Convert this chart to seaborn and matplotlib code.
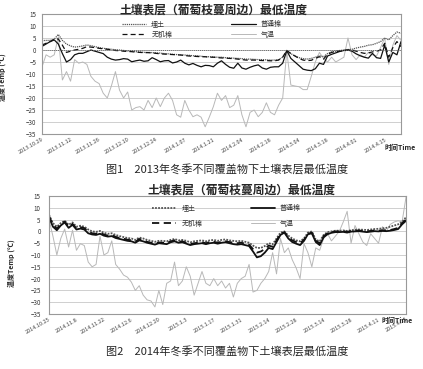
import numpy as np
import pandas as pd
import matplotlib
matplotlib.use("Agg")
import matplotlib.pyplot as plt
import seaborn as sns

# ---------------- data (one reading every 2 days) ----------------
start1 = "2013-10-29"
step1 = 2
maitu1 = [3.9, 4, 4, 4.5, 6.5, 4, 2.5, 1.7, 1.2, 1.4,
          1.7, 2.1, 1.8, 1.4, 1, 0.7, 0.5, 0.3, 0.1, 0,
          -0.2, -0.4, -0.5, -0.7, -0.8, -1, -1, -1.1, -1.2, -1.3,
          -1.5, -1.6, -1.8, -1.9, -2, -2.1, -2.2, -2.4, -2.4, -2.6,
          -2.8, -2.8, -2.9, -3, -3, -3.2, -3.3, -3.4, -3.5, -3.6,
          -3.8, -3.8, -3.9, -4, -4, -4.1, -4.2, -4.2, -4, -3,
          -0.2, -1.5, -2.5, -3.2, -3.6, -3.8, -3.5, -3, -2.4, -2.8,
          -1.5, -0.8, -0.5, -0.2, 0, 0.2, 0.3, 0.8, 1.2, 1.5,
          2, 2.2, 2.8, 3.5, 5, 4.2, 6, 7.5, 7]
putong1 = [1.5, 2.5, 3.5, 4.2, 2.5, -1.5, -5, -4, -2, -1.4,
           -1.4, -0.7, 0, -0.5, -1, -1.5, -3, -3.8, -4.2, -4,
           -3.6, -3.8, -4.9, -4.5, -4.2, -4.7, -4.5, -3.2, -4, -4.9,
           -4.5, -4.4, -5.4, -5, -4.2, -5.5, -6.2, -5.6, -6.4, -7,
           -6.4, -6.5, -7, -5.5, -4.5, -6, -7.2, -7.6, -5.5, -7.5,
           -8, -7.2, -6.6, -6.2, -7.5, -8, -7.2, -7, -7, -5.5,
           -0.3, -3.5, -5, -6.5, -8, -8.4, -8.6, -7.8, -5.5, -6,
           -2.5, -1.8, -1.2, -0.6, -0.2, 0, -0.5, -1.6, -2.4, -3,
           -3.4, -1.4, -3.2, -3.5, 2, -5, -1, -2, 3.5]
wuji1 = [2.1, 2.8, 3.5, 4.5, 4.6, 2, -1, -0.5, 0, 0.3,
         0.7, 1.4, 1.2, 1, 0.7, 0.5, 0.3, 0.1, -0.2, -0.3,
         -0.5, -0.6, -0.7, -0.9, -1, -1.1, -1.1, -1.2, -1.4, -1.6,
         -1.7, -1.8, -1.9, -2, -2.1, -2.3, -2.5, -2.6, -2.7, -2.8,
         -2.8, -3, -3, -3.2, -3.3, -3.4, -3.5, -3.6, -3.8, -4,
         -4.2, -4.2, -4.2, -4.3, -4.4, -4.4, -4.5, -4.5, -4.2, -3,
         -0.2, -1.5, -2.5, -3.5, -4.2, -4.4, -4.3, -3.5, -2.8, -3.8,
         -1.8, -1, -0.7, -0.5, -0.3, 0, 0, -0.5, -1, -1.4,
         -1.2, -0.8, -0.5, 0, 2.8, -3, 1, 3.5, 1.4]
qiwen1 = [-7, -2, -3, -2, 5.5, -12.5, -9, -13, -4, -5.5,
          -5, -6, -11, -13, -14, -18, -20, -15, -9, -16.7,
          -20, -17.5, -25, -24, -23.6, -25, -21, -24, -20, -23.6,
          -20, -18, -21, -27, -28, -21, -25, -27.8, -27, -28,
          -32, -28, -23.6, -18, -21, -19, -24, -23, -19, -27,
          -32, -26, -25, -27.8, -26, -22, -26, -27, -23, -20,
          -0.5, -14.6, -15, -15.3, -16.5, -16.5, -11, -5, -1, -3.5,
          -5, -3, -5, -4, -3, 5, -2, -4, -2, -3,
          -1, -2, -2.5, 1, 5, -6, 2, 6, 4]
ticks1 = ["2013.10.29", "2013.11.12", "2013.11.26", "2013.12.10", "2013.12.24", "2014.1.07",
          "2014.1.21", "2014.2.04", "2014.2.18", "2014.3.04", "2014.3.18", "2014.4.01",
          "2014.4.15"]

start2 = "2014-10-25"
step2 = 2
maitu2 = [7, 3.5, 2, 3.5, 4.5, 2.8, 3.8, 2, 2.4, 2,
          0.8, 0, -0.2, 0.2, -0.6, -1, -0.8, -1.5, -2, -2.4,
          -2.8, -3, -3.6, -2.6, -3, -3.6, -4, -4.4, -4, -4,
          -4.2, -3.6, -3.2, -3.8, -3.6, -4, -4.6, -4.2, -4, -3.8,
          -4.2, -3.8, -3.6, -4, -3.6, -3.4, -3.8, -4, -4.2, -4,
          -4.4, -4.8, -6, -7, -7, -6.2, -5, -5.5, -3, -0.5,
          0, -1.8, -3, -3.8, -4.2, -3, -0.5, 0, -3.5, -4.2,
          -1.5, -0.3, 0, 0.3, 0.3, 0.4, 0.2, 0.5, 0.7, 0.8,
          0.7, 0.6, 0.8, 1, 1.1, 1.3, 1.5, 2, 2.5, 3,
          4, 6]
putong2 = [6, 2, 0.5, 2.5, 3.8, 1.5, 2.8, 0.8, 1.2, 0.8,
           -0.8, -1.3, -1.5, -1, -1.8, -2.2, -2, -2.8, -3.2, -3.6,
           -4, -4.2, -4.8, -3.8, -4.2, -4.8, -5.2, -5.6, -5, -5.2,
           -5.4, -4.6, -4.2, -4.8, -4.6, -5.2, -5.8, -5.4, -5.2, -5,
           -5.4, -5, -4.8, -5.2, -4.8, -4.6, -5, -5.4, -5.6, -5.4,
           -5.8, -6.2, -8.5, -11, -10.5, -9, -7, -7.5, -4.5, -1.5,
           -0.5, -3, -4.5, -5.2, -5.8, -4, -1.2, -0.8, -4.5, -5.8,
           -2.5, -1.2, -0.6, -0.3, -0.3, -0.2, -0.5, -0.1, 0, 0.1,
           -0.1, -0.3, -0.1, 0.1, 0, 0.2, 0.1, 0.3, 0.6, 1,
           3, 4.5]
wuji2 = [6.5, 2.8, 1.2, 3, 4.2, 2, 3.2, 1.2, 1.8, 1.4,
         0, -0.8, -1, -0.6, -1.3, -1.8, -1.5, -2.3, -2.8, -3.1,
         -3.5, -3.8, -4.4, -3.2, -3.7, -4.4, -4.8, -5.2, -4.7, -4.8,
         -5, -4.2, -3.8, -4.4, -4.2, -4.8, -5.4, -5, -4.8, -4.6,
         -5, -4.5, -4.4, -4.8, -4.4, -4.2, -4.5, -4.8, -5, -4.8,
         -5.2, -5.6, -7.5, -9, -8.5, -7.5, -6, -6.5, -3.8, -1,
         -0.3, -2.4, -3.8, -4.5, -5, -3.5, -1, -0.5, -4, -5,
         -2, -0.8, -0.3, 0, 0, 0.1, -0.2, 0.2, 0.3, 0.4,
         0.2, 0, 0.2, 0.4, 0.3, 0.5, 0.4, 0.6, 1, 1.5,
         3.5, 5]
qiwen2 = [5, -2, -10, -3, 1, -6.6, 0.5, -8, -5.2, -6,
          -13, -15, -14, -2, -10, -9, -4, -14, -16, -18.5,
          -19.4, -21.5, -25, -23, -27, -29, -29.5, -32, -25, -31,
          -22, -21, -13, -23, -21, -15, -19, -27, -22, -17,
          -22, -23, -20, -23, -21, -24, -22, -27.8, -22, -20,
          -19, -14, -25.7, -25, -22, -20, -17, -9, -18, -3,
          -9, -7, -12, -15.5, -20, -5.2, -9, -15, -7, -8,
          -3, -1, -4, -2, 0, 4, 8.5, -5, 2.5, -1,
          -4.5, -6, -1, -3, -5, 2, 0, 3, 4, 4.5,
          4, 14.5]
ticks2 = ["2014.10.25", "2014.11.8", "2014.11.22", "2014.12.6", "2014.12.20", "2015.1.3",
          "2015.1.17", "2015.1.31", "2015.2.14", "2015.2.28", "2015.3.14", "2015.3.28",
          "2015.4.11", "2015.4.25"]

labels = ["埋土", "普通棉", "无机棉", "气温"]
title = "土壤表层（葡萄枝蔓周边）最低温度"
cap1 = "图1　2013年冬季不同覆盖物下土壤表层最低温度"
cap2 = "图2　2014年冬季不同覆盖物下土壤表层最低温度"

# ---------------- style ----------------
sns.set_theme(style="white")
plt.rcParams["font.family"] = ["Noto Sans CJK SC", "DejaVu Sans"]

fig = plt.figure(figsize=(4.23, 3.69), dpi=100)


def make_frame(start, step, series):
    n = len(series[0])
    dates = pd.date_range(start, periods=n, freq=f"{step}D")
    return pd.DataFrame({"date": dates, **{k: v for k, v in zip(labels, series)}})


def draw(rect, df, ticklabels, start, soil_lw, zero_line, leg_anchor, leg_sp, col_sp,
         ylab_pos, ypad):
    ax = fig.add_axes(rect)
    styles = {
        "埋土": dict(color="#555555", linestyle=(0, (1, 0.7)), linewidth=soil_lw),
        "普通棉": dict(color="#111111", linestyle="-", linewidth=soil_lw),
        "无机棉": dict(color="#111111", linestyle=(0, (4, 2.5)), linewidth=soil_lw),
        "气温": dict(color="#b8b8b8", linestyle="-", linewidth=0.7),
    }
    for name in ["气温", "埋土", "普通棉", "无机棉"]:
        sns.lineplot(data=df, x="date", y=name, ax=ax, label=name, **styles[name])
    h, l = ax.get_legend_handles_labels()
    hd = dict(zip(l, h))
    order = ["埋土", "无机棉", "普通棉", "气温"]
    leg = ax.legend([hd[k] for k in order], order, ncol=2, frameon=False,
                    loc="upper left", bbox_to_anchor=leg_anchor, fontsize=5,
                    handlelength=3.5, handletextpad=0.7, columnspacing=col_sp,
                    labelspacing=leg_sp, borderpad=0, borderaxespad=0)
    for t in leg.get_texts():
        t.set_color("#333333")
    ax.set_ylim(-35, 15)
    ax.set_yticks(np.arange(-35, 16, 5))
    ax.yaxis.grid(True, color="#c8c8c8", linewidth=0.6)
    ax.xaxis.grid(False)
    tick_dates = pd.date_range(start, periods=len(ticklabels), freq="14D")
    ax.set_xticks(tick_dates)
    ax.set_xticklabels(ticklabels, rotation=30, ha="right", rotation_mode="anchor",
                       fontsize=4, color="#444444")
    ax.set_xlim(df["date"].iloc[0], df["date"].iloc[-1])
    ax.tick_params(axis="y", labelsize=4.5, colors="#333333", length=0, pad=ypad)
    ax.tick_params(axis="x", length=0, pad=2)
    for s in ax.spines.values():
        s.set_color("#999999")
        s.set_linewidth(0.8)
    if zero_line:
        ax.axhline(0, color="#666666", linewidth=0.7, linestyle=(0, (1, 1)))
    ax.set_xlabel("")
    ax.set_ylabel("温度Temp (℃)", fontsize=5, fontweight="bold")
    ax.yaxis.set_label_coords(*ylab_pos)
    return ax


df1 = make_frame(start1, step1, [maitu1, putong1, wuji1, qiwen1])
df2 = make_frame(start2, step2, [maitu2, putong2, wuji2, qiwen2])

ax1 = draw([42 / 423, 1 - 134 / 369, 359 / 423, 120 / 369], df1, ticks1, start1, 0.9, True,
           (0.223, 0.946), 0.35, 8.5, (-0.10, 0.47), 4)
ax2 = draw([49 / 423, 1 - 314 / 369, 357 / 423, 118 / 369], df2, ticks2, start2, 1.3, False,
           (0.289, 0.932), 1.1, 7.0, (-0.095, 0.43), 6)

fig.text(214 / 423, 1 - 10 / 369, title, ha="center", va="center", fontsize=8.5, fontweight="bold")
fig.text(241 / 423, 1 - 190 / 369, title, ha="center", va="center", fontsize=8.5, fontweight="bold")
fig.text(400 / 423, 1 - 147 / 369, "时间Time", ha="center", va="center", fontsize=5, fontweight="bold")
fig.text(397 / 423, 1 - 320 / 369, "时间Time", ha="center", va="center", fontsize=5, fontweight="bold")
fig.text(227 / 423, 1 - 170 / 369, cap1, ha="center", va="center", fontsize=8)
fig.text(227 / 423, 1 - 352 / 369, cap2, ha="center", va="center", fontsize=8)

fig.savefig("out.png", dpi=100, facecolor="white")
